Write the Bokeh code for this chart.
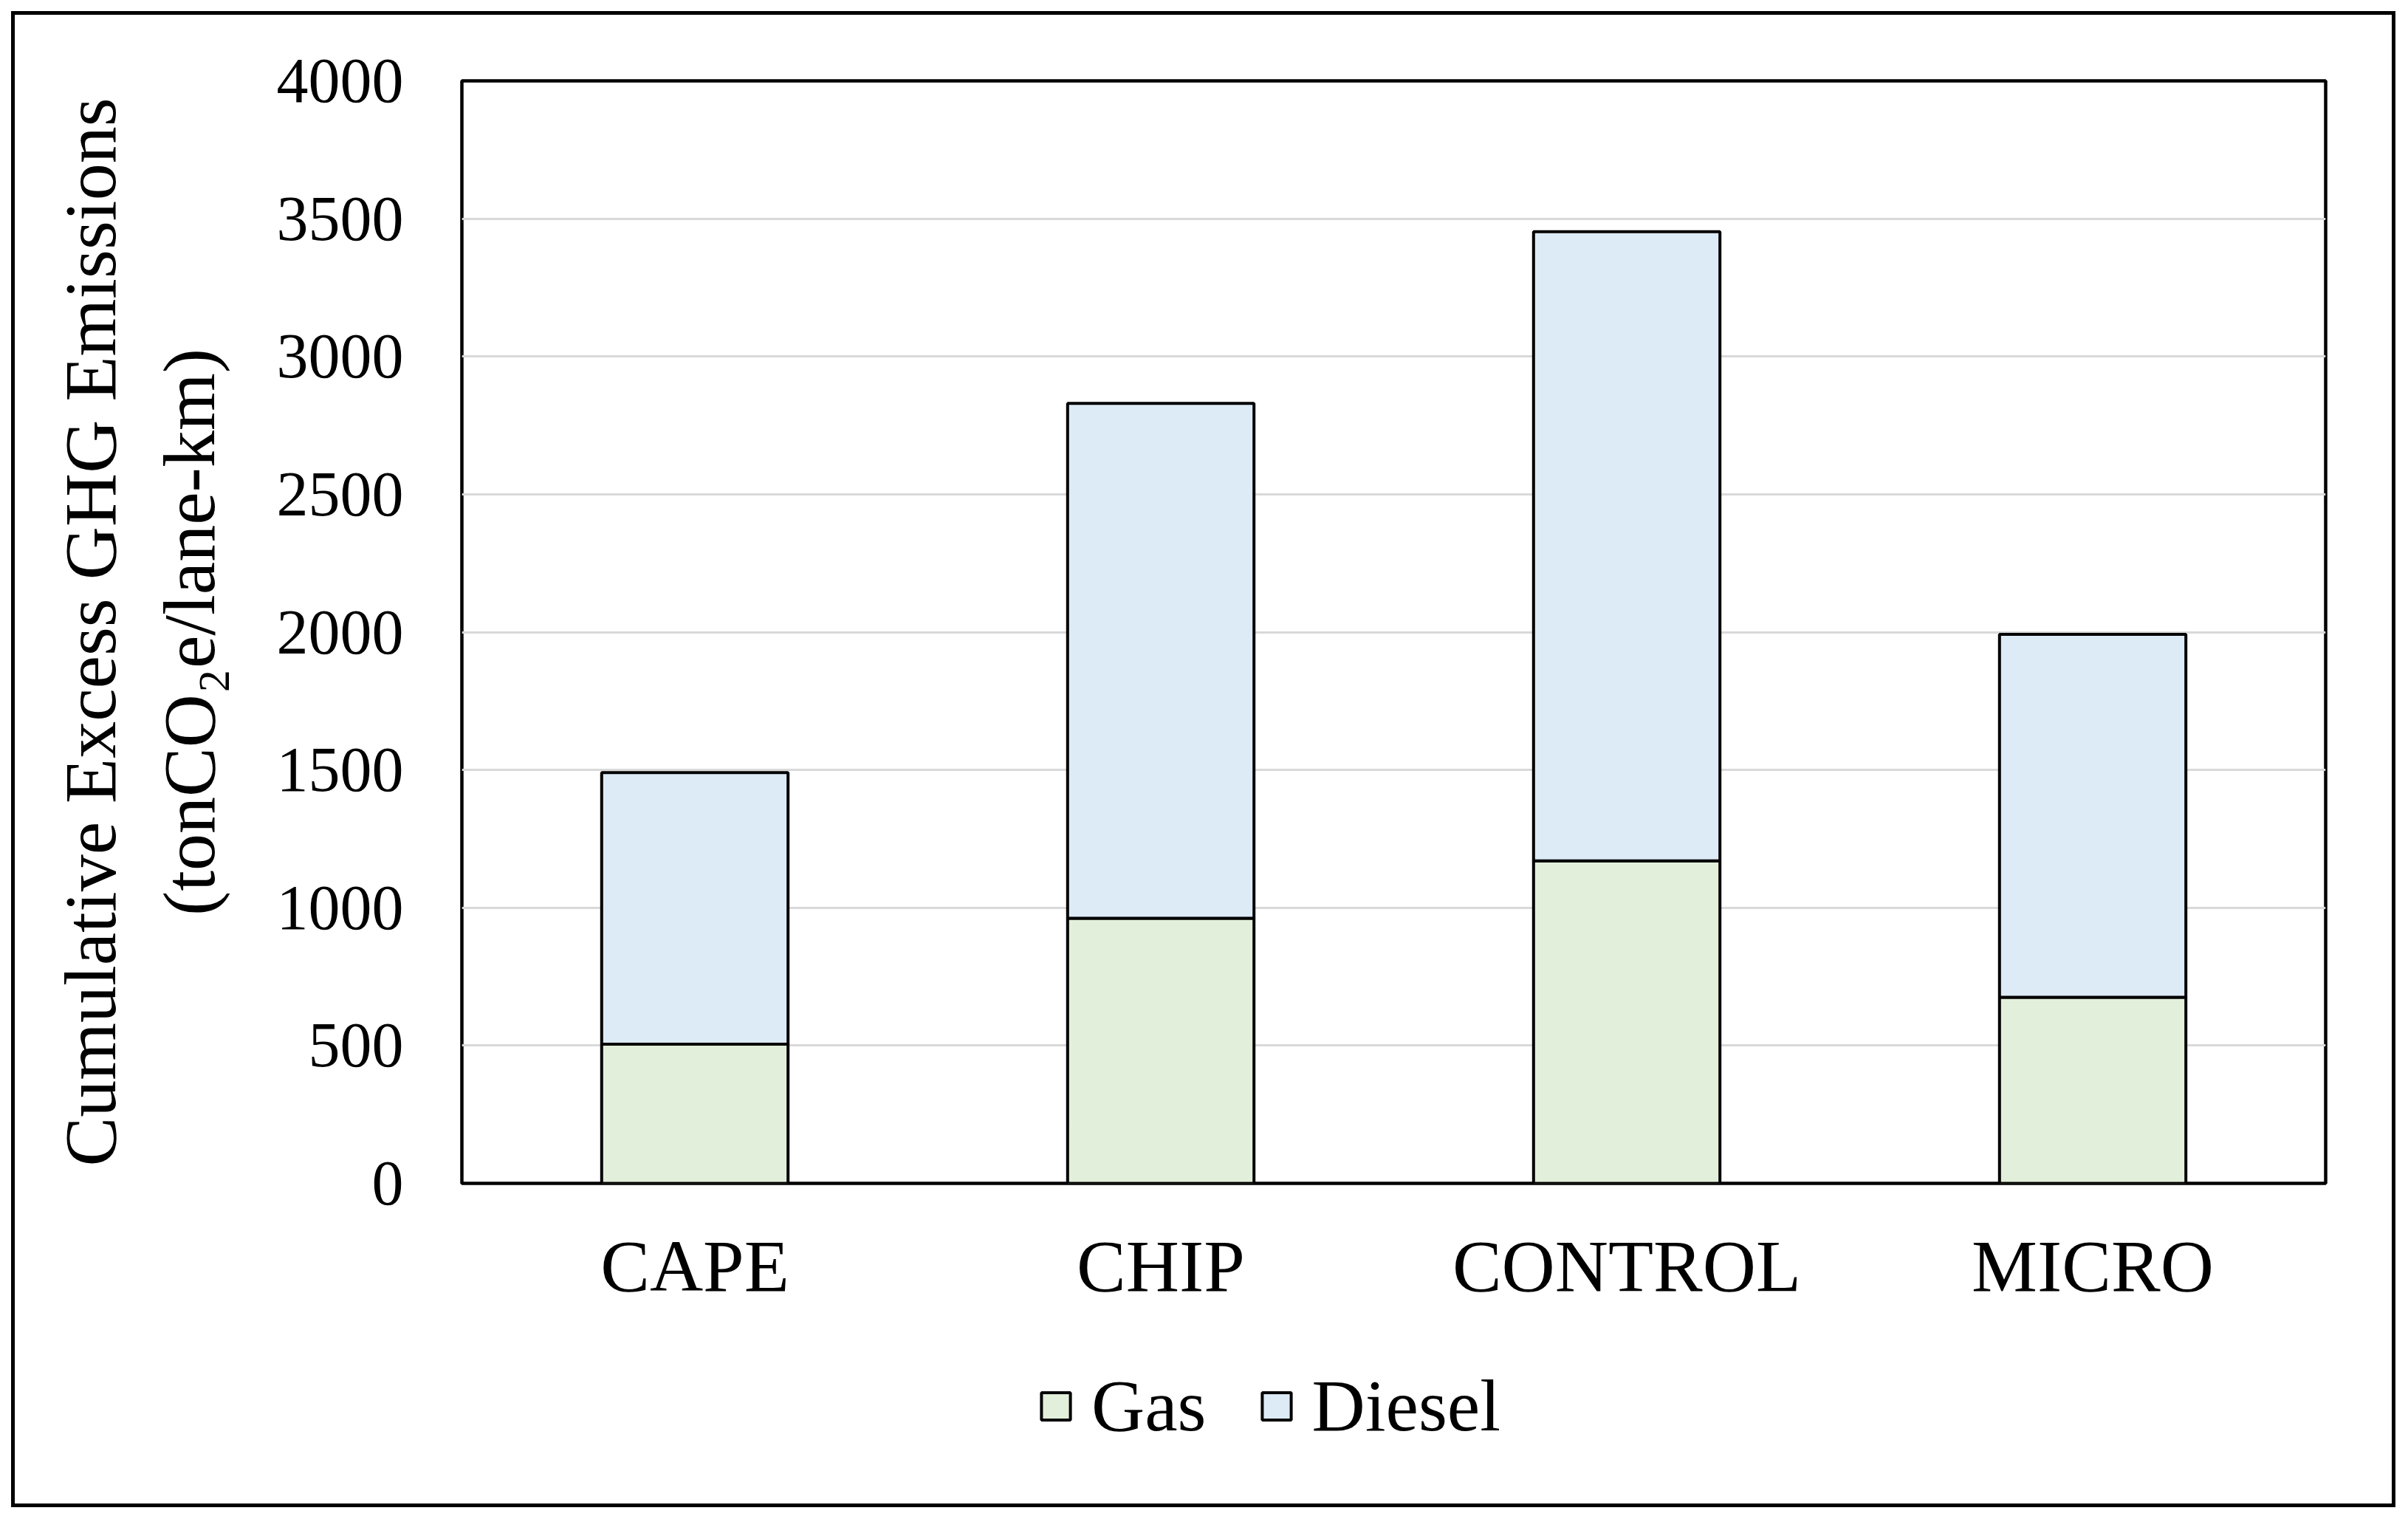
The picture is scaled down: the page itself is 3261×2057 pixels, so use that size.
from bokeh.plotting import figure
from bokeh.models import (ColumnDataSource, FactorRange, Range1d, FixedTicker,
                          Legend, LegendItem, Column)
from bokeh.embed import file_html
from bokeh.resources import INLINE

# ---- data ----
categories = ["CAPE", "CHIP", "CONTROL", "MICRO"]
gas = [505, 962, 1170, 675]
diesel = [985, 1868, 2283, 1317]
series = ["Gas", "Diesel"]
series_colors = ["#E2EFDA", "#DDEBF7"]
y_ticks = [0, 500, 1000, 1500, 2000, 2500, 3000, 3500, 4000]
y_title = "Cumulative Excess GHG Emissions\n(tonCO\u2082e/lane-km)"

FONT = "Liberation Serif"
W = 3259
H_MAIN = 1820
H_LEG = 236

src = ColumnDataSource(dict(cat=categories, Gas=gas, Diesel=diesel))

p = figure(x_range=FactorRange(factors=categories, range_padding=0),
           y_range=Range1d(0, 4000),
           width=W, height=H_MAIN,
           output_backend="svg", toolbar_location=None,
           min_border_left=625, min_border_right=110,
           min_border_top=109, min_border_bottom=H_MAIN - 1602)

rs = p.vbar_stack(series, x="cat", width=0.4, source=src,
                  fill_color=series_colors, line_color="black", line_width=4)

# frame
p.outline_line_color = "black"
p.outline_line_width = 4.5
p.background_fill_color = "white"
p.border_fill_color = None

# grid
p.xgrid.grid_line_color = None
p.ygrid.ticker = FixedTicker(ticks=y_ticks)
p.ygrid.grid_line_color = "#D9D9D9"
p.ygrid.grid_line_width = 3

# axes
for ax in (p.xaxis[0], p.yaxis[0]):
    ax.axis_line_color = None
    ax.major_tick_line_color = None
    ax.minor_tick_line_color = None
    ax.major_tick_in = 0
    ax.major_tick_out = 0
    ax.major_label_text_font = FONT
    ax.major_label_text_color = "black"

p.yaxis.ticker = FixedTicker(ticks=y_ticks)
p.yaxis.major_label_text_font_size = "86px"
p.yaxis.major_label_standoff = 79
p.yaxis.axis_label = y_title
p.yaxis.axis_label_text_font = FONT
p.yaxis.axis_label_text_font_size = "100px"
p.yaxis.axis_label_text_font_style = "normal"
p.yaxis.axis_label_text_color = "black"
p.yaxis.axis_label_standoff = 60

p.xaxis.major_label_text_font_size = "100px"
p.xaxis.major_label_standoff = 56

# ---- legend strip (separate figure below the chart) ----
# the same stacked series as hidden renderers, so only their legend keys show
pl = figure(x_range=FactorRange(factors=categories, range_padding=0),
            y_range=Range1d(-2, -1),
            width=W, height=H_LEG, x_axis_type=None, y_axis_type=None,
            output_backend="svg", toolbar_location=None,
            min_border_left=0, min_border_right=0,
            min_border_top=0, min_border_bottom=0)
pl.outline_line_color = None
pl.background_fill_color = None
pl.border_fill_color = None
pl.grid.visible = False

leg_renderers = pl.vbar_stack(series, x="cat", width=0.4, source=src,
                              fill_color=series_colors, line_color="black",
                              line_width=4)
for r in leg_renderers:
    r.visible = False

legend = Legend(items=[LegendItem(label=s, renderers=[r])
                       for s, r in zip(series, leg_renderers)],
                location=(780, 95), orientation="horizontal",
                label_text_font=FONT, label_text_font_size="100px",
                label_text_color="black",
                glyph_width=49, glyph_height=46, label_standoff=24,
                spacing=70, padding=0, margin=0,
                inactive_fill_alpha=0,
                border_line_color=None, background_fill_alpha=0)
pl.add_layout(legend)

layout = Column(children=[p, pl], spacing=0,
                styles={"outline": "5px solid black", "outline-offset": "-20px"})

open("out.html", "w").write(file_html(layout, INLINE))
